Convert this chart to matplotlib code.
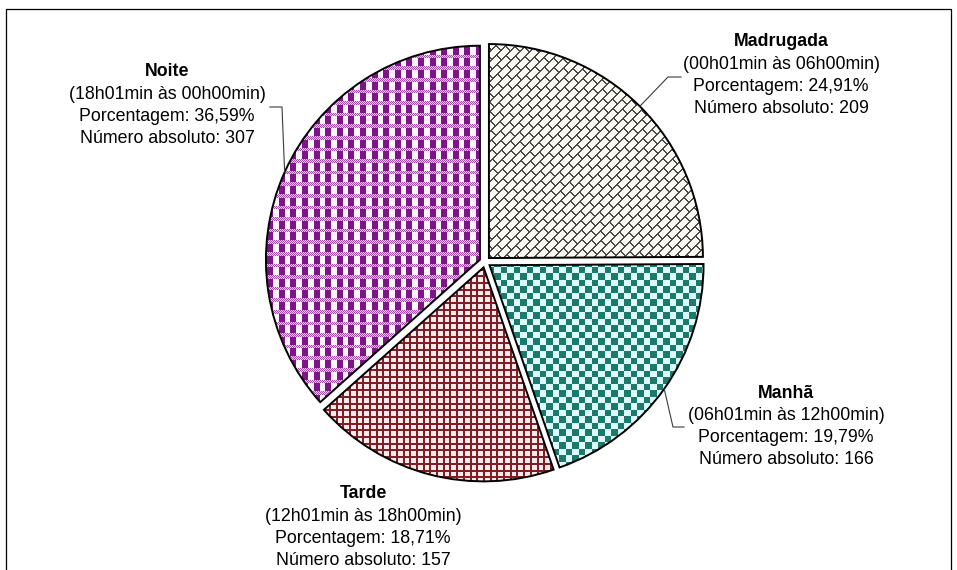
import numpy as np
import matplotlib
matplotlib.use('Agg')
import matplotlib.pyplot as plt
from matplotlib.colors import to_rgb

# turnos e contagens de ocorrências
turnos = ['Madrugada', 'Manhã', 'Tarde', 'Noite']
periodos = ['(00h01min às 06h00min)', '(06h01min às 12h00min)',
            '(12h01min às 18h00min)', '(18h01min às 00h00min)']
contagens = [209, 166, 157, 307]

W, H = 957, 570
R = 214.0          # raio da pizza em pixels
CX, CY = 485, 262  # centro da pizza (pixels, y a partir do topo)


def px(x, y):
    # pixel (y para baixo) -> coordenadas de dados (raio = 1)
    return (x - CX) / R, (CY - y) / R


# texturas das fatias
rr, cc = np.mgrid[0:H, 0:W]


def textura(mask, cor1, cor2):
    return np.where(mask[..., None], np.array(to_rgb(cor1)), np.array(to_rgb(cor2)))


# tijolo diagonal
u = rr + cc
v = cc - rr
faixa = u // 10
tijolo = ((u % 10) < 2) | (((v + (faixa % 2) * 9) % 18) < 2)
tex_madrugada = textura(tijolo, '#4a4a4a', '#fafaf2')

# xadrez
s = 6.5
xadrez = ((np.floor(cc / s) + np.floor(rr / s)) % 2) == 0
tex_manha = textura(xadrez, '#1c7a6c', '#dcfbfa')

# grade
p = 6.7
grade = ((cc % p) < 2) | ((rr % p) < 2)
tex_tarde = textura(grade, '#7e1f25', '#ffe9ec')

# xadrez escocês
q = 11.6
colunas = (cc % q) < 6
banda = (rr % q) >= 8
fino = ((rr + cc) % 2) == 0
tex_noite = np.where((~banda & colunas)[..., None], np.array(to_rgb('#7d1488')),
                     np.where((banda & fino)[..., None], np.array(to_rgb('#a44dae')),
                              np.where(banda[..., None], np.array(to_rgb('#e8c8ec')),
                                       np.array(to_rgb('#fdf3fd')))))

texturas = [tex_madrugada, tex_manha, tex_tarde, tex_noite]

fig = plt.figure(figsize=(W / 100, H / 100), dpi=100)
ax = fig.add_axes([0, 0, 1, 1])

wedges, _ = ax.pie(contagens, startangle=90, counterclock=False,
                   explode=[0.026] * 4,
                   wedgeprops=dict(facecolor='none', edgecolor='black',
                                   linewidth=1.4, zorder=3))

x0, y1 = px(0, 0)
x1, y0 = px(W, H)
for w, tex in zip(wedges, texturas):
    im = ax.imshow(tex, extent=(x0, x1, y0, y1), origin='upper',
                   interpolation='nearest', aspect='auto', zorder=1)
    im.set_clip_path(w)

ax.set_xlim(x0, x1)
ax.set_ylim(y0, y1)
ax.axis('off')

# moldura
fx = [px(6, H + 5), px(6, 9), px(951, 9), px(951, H + 5)]
ax.plot([a for a, b in fx], [b for a, b in fx], color='black', lw=0.9,
        clip_on=False, zorder=5)

# rótulos
total = sum(contagens)
pos_rotulos = [(781, 42), (786, 393), (363, 494), (167, 72)]
passo = 22.3
fonte = 'Liberation Sans'
for nome, per, n, (lx, ly) in zip(turnos, periodos, contagens, pos_rotulos):
    pct = f'{100 * n / total:.2f}'.replace('.', ',')
    linhas = [per, f'Porcentagem: {pct}%', f'Número absoluto: {n}']
    tx, ty = px(lx, ly)
    ax.text(tx, ty, nome, ha='center', va='center', fontsize=12.8,
            fontweight='bold', family=fonte, zorder=6)
    for k, txt in enumerate(linhas, start=1):
        tx, ty = px(lx, ly + k * passo)
        ax.text(tx, ty, txt, ha='center', va='center', fontsize=12.8,
                family=fonte, zorder=6)

# linhas de chamada (saem do ponto médio do arco)
chamadas = {0: [(668, 77), (681, 77)],
            1: [(673, 427), (684, 427)],
            3: [(282, 107), (270, 107)]}
for i, pontos in chamadas.items():
    w = wedges[i]
    ang = np.deg2rad((w.theta1 + w.theta2) / 2)
    sx = w.center[0] + w.r * np.cos(ang)
    sy = w.center[1] + w.r * np.sin(ang)
    xs = [sx] + [px(a, b)[0] for a, b in pontos]
    ys = [sy] + [px(a, b)[1] for a, b in pontos]
    ax.plot(xs, ys, color='#3a3a3a', lw=0.8, zorder=4)

fig.savefig('out.png', dpi=100)
